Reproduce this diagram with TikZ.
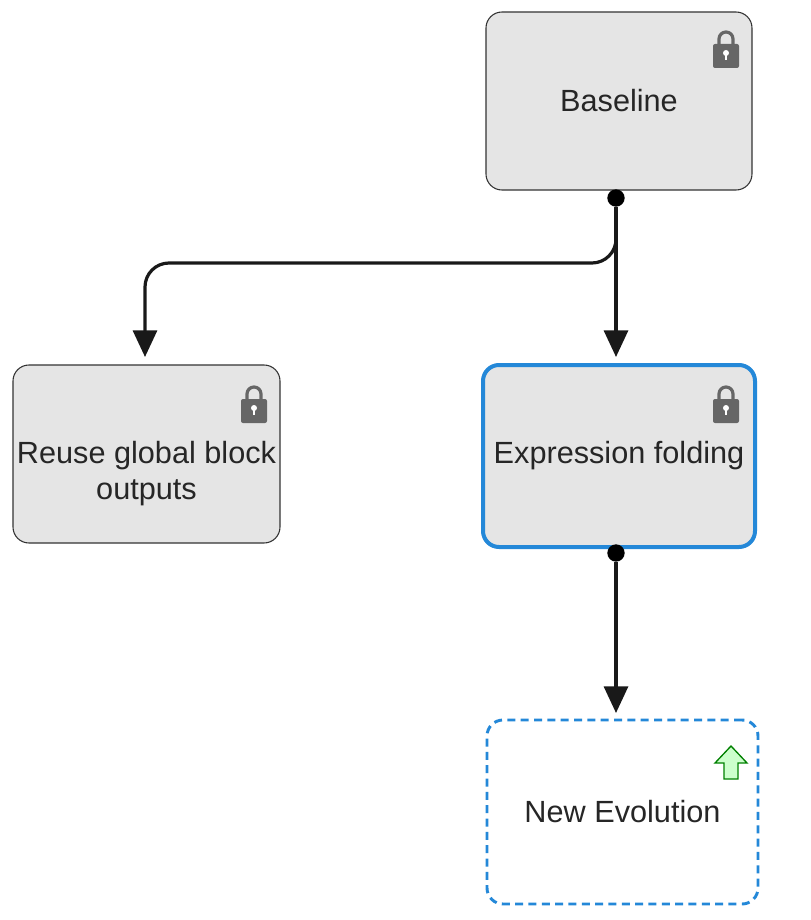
\documentclass[tikz,border=0pt]{standalone}
\usepackage{fontspec}
\setmainfont{Liberation Sans}
\usetikzlibrary{arrows.meta}
\definecolor{selblue}{RGB}{36,136,216}

\begin{document}
\begin{tikzpicture}[
  x=0.75pt,y=-0.75pt,
  txt/.style={align=center,font=\fontsize{20.5}{27}\selectfont,text=black!85},
  box/.style={txt,draw=black!80,fill=black!10,rounded corners=12pt,line width=0.8pt},
  newbox/.style={txt,draw=selblue,dashed,dash pattern=on 6pt off 4pt,line width=2.2pt,
    rounded corners=12pt},
  conn/.style={line width=2.4pt,black!90,-{Triangle[length=20pt,width=18pt]}},
  dot/.style={circle,fill=black,inner sep=0pt,minimum size=13pt}
]
  \useasboundingbox (0,0) rectangle (810,920);

  % locks
  \tikzset{lock/.pic={
    \draw[black!60,line width=2.4pt] (-7,-4) -- (-7,-11) arc (180:360:7) -- (7,-4);
    \fill[black!60,rounded corners=1.5pt] (-13,-6) rectangle (13,18);
    \fill[white] (0,3) circle (3);
    \fill[white] (-1.2,3) rectangle (1.2,10);
  }}

  % boxes
  \node[box,minimum width=266*0.75pt,minimum height=178*0.75pt,font=\fontsize{23}{27}\selectfont] (base) at (619,101) {Baseline};
  \node[box,minimum width=267*0.75pt,minimum height=178*0.75pt] (reuse) at (146.5,454) {};
  \node[txt,font=\fontsize{23}{27}\selectfont] (reusetxt) at (146.5,474) {Reuse global block\\outputs};
  \node[box,draw=selblue,line width=3pt,minimum width=272*0.75pt,minimum height=182*0.75pt,font=\fontsize{23}{27}\selectfont] (fold) at (619,456) {Expression folding};
  \node[newbox,minimum width=271*0.75pt,minimum height=184*0.75pt,font=\fontsize{23}{27}\selectfont] (new) at (622.5,812) {New Evolution};

  \pic at (726,50) {lock};
  \pic at (254,405) {lock};
  \pic at (726,405) {lock};
  \draw[green!50!black,fill=green!20,line width=1pt]
    (731,746) -- (747,763) -- (738,763) -- (738,779) -- (724,779) -- (724,763) -- (715,763) -- cycle;

  % edges
  \node[dot] (d1) at (616,198) {};
  \node[dot] (d2) at (616,553) {};
  \coordinate (t1) at (616,357);
  \coordinate (t2) at (145,357);
  \coordinate (t3) at (616,713);
  \draw[conn] (d1) -- (t1);
  \draw[conn,rounded corners=18pt] (d1) -- (616,263) -- (145,263) -- (t2);
  \draw[conn] (d2) -- (t3);
\end{tikzpicture}
\end{document}
